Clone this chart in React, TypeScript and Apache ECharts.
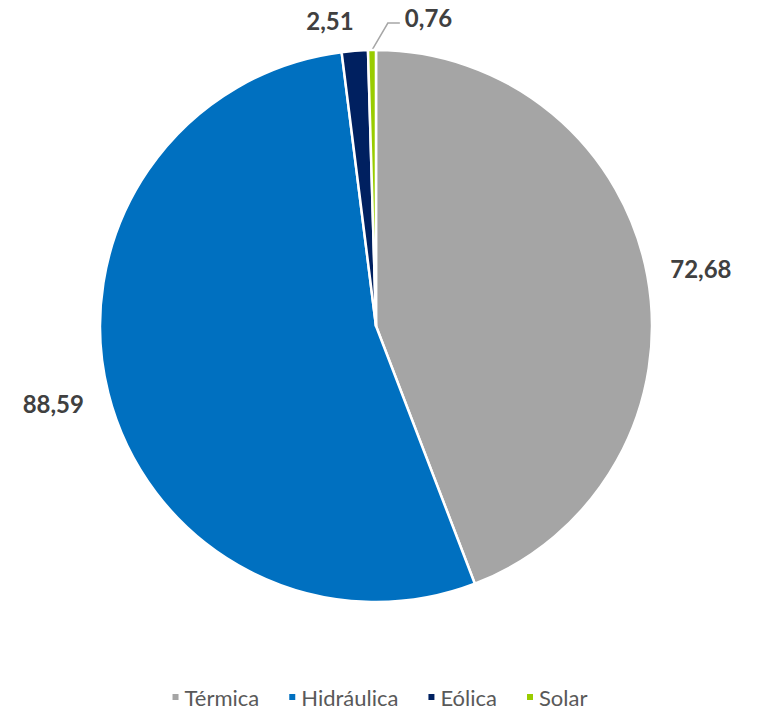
import React, { useEffect, useRef } from "react";
import * as echarts from "echarts";

const categories = ["Térmica", "Hidráulica", "Eólica", "Solar"];
const values = [72.68, 88.59, 2.51, 0.76];
const colors = ["#A5A5A5", "#0070C0", "#002060", "#99CC00"];
const lineLengths = [10, 22, 28, 10];
const lineLengths2 = [8, 0, 0, 10];
const showLines = [false, false, false, true];
const labelShiftX = [0, 2, 6, 0];
const labelShiftY = [-5, 5, -2, 0];

export default function App() {
  const ref = useRef<HTMLDivElement>(null);
  useEffect(() => {
    if (!ref.current) return;
    const chart = echarts.init(ref.current, null, { renderer: "svg" });
    const fmt = (v: number) => v.toFixed(2).replace(".", ",");
    chart.setOption({
      animation: false,
      backgroundColor: "#ffffff",
      legend: {
        top: 680,
        left: "center",
        icon: "rect",
        itemWidth: 8,
        itemHeight: 8,
        itemGap: 28,
        textStyle: { fontFamily: "Lato", fontSize: 22, color: "#595959", lineHeight: 24 },
        data: categories,
      },
      series: [
        {
          type: "pie",
          center: [376, 326],
          radius: 276,
          startAngle: 90,
          clockwise: true,
          avoidLabelOverlap: false,
          itemStyle: { borderColor: "#ffffff", borderWidth: 2.5 },
          label: {
            show: true,
            position: "outside",
            fontFamily: "Lato",
            fontWeight: "bold",
            fontSize: 24,
            color: "#404040",
            formatter: (p: any) => fmt(p.value),
          },
          labelLayout: (params: any) => {
            const i = params.dataIndex;
            if (i !== 3) return { dx: labelShiftX[i], dy: labelShiftY[i] };
            const pts = params.labelLinePoints;
            if (!pts || pts.length < 2) return {};
            const p0 = pts[0];
            const p1 = pts[1];
            const bend = [p1[0] + 16, p1[1] - 17];
            const end = [bend[0] + 12, bend[1]];
            return {
              x: end[0] + 5,
              y: end[1] - 6,
              align: "left",
              verticalAlign: "middle",
              labelLinePoints: [p0, bend, end],
            };
          },
          data: categories.map((name, i) => ({
            name,
            value: values[i],
            itemStyle: { color: colors[i] },
            labelLine: {
              show: showLines[i],
              length: lineLengths[i],
              length2: lineLengths2[i],
              lineStyle: { color: "#A6A6A6", width: 1.5 },
            },
          })),
        },
      ],
    });
    return () => chart.dispose();
  }, []);
  return (
    <div
      ref={ref}
      style={{ position: "fixed", left: 0, top: 0, width: 758, height: 710 }}
    />
  );
}
